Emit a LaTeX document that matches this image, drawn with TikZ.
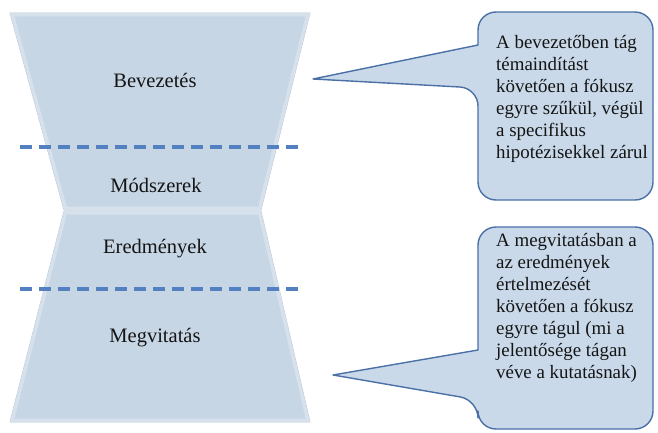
\documentclass[tikz,border=0pt]{standalone}
\usepackage{fontspec}
\setmainfont{Liberation Serif}
\definecolor{funnelfill}{HTML}{C7D6E4}
\definecolor{funnellight}{HTML}{D6E1EB}
\definecolor{funneledge}{HTML}{BCCDDD}
\definecolor{sepblue}{HTML}{5280C0}
\definecolor{bubblefill}{HTML}{C9D9E9}
\definecolor{bubbleedge}{HTML}{4A70A6}
\definecolor{inktext}{HTML}{141414}

\begin{document}
\begin{tikzpicture}[x=1pt,y=-1pt,
        funnel/.style={fill=funnelfill, draw=funneledge, line width=0.8pt, line join=round},
        bevel/.style={draw=funnellight, line width=7pt, line join=round},
        sepline/.style={draw=sepblue, line width=3.2pt, dash pattern=on 12pt off 7pt},
        stagelabel/.style={font=\fontsize{20.5}{24}\selectfont, text=inktext, inner sep=0pt},
        bubble/.style={fill=bubblefill, draw=bubbleedge, line width=1.4pt, line join=round},
        bubbletext/.style={font=\fontsize{18.9}{22}\selectfont, text=inktext, align=left, anchor=west, inner sep=0pt}]
        \useasboundingbox (0,0) rectangle (658,433);

        \draw[funnel] (10,13) -- (310,13) -- (261,210) -- (64,210) -- cycle;
        \begin{scope}
            \clip (10,13) -- (310,13) -- (261,210) -- (64,210) -- cycle;
            \draw[bevel] (10,13) -- (310,13) -- (261,210) -- (64,210) -- cycle;
        \end{scope}
        \draw[funnel] (64,211) -- (261,211) -- (310,422) -- (10,422) -- cycle;
        \begin{scope}
            \clip (64,211) -- (261,211) -- (310,422) -- (10,422) -- cycle;
            \draw[bevel] (64,211) -- (261,211) -- (310,422) -- (10,422) -- cycle;
        \end{scope}

        \draw[sepline] (20,147) -- (302,147);
        \draw[sepline] (20,289) -- (302,289);

        \node[stagelabel] (bev) at (155,80) {Bevezetés};
        \node[stagelabel] (mod) at (156,185) {Módszerek};
        \node[stagelabel] (ered) at (155,249) {Eredmények};
        \node[stagelabel] (megv) at (155,338) {Megvitatás};

        \draw[bubble] (478,45) [rounded corners=18pt] -- (478,12) -- (653,12) -- (653,200) -- (478,200) -- (478,88) [sharp corners] -- (313,79) -- cycle;
        \draw[bubble] (478,350) [rounded corners=18pt] -- (478,227) -- (653,227) -- (653,429) -- (478,429) -- (478,400) [sharp corners] -- (333,375) -- cycle;

        \node[bubbletext] (introbox) at (496,99) {A bevezetőben tág\\témaindítást\\követően a fókusz\\egyre szűkül, végül\\a specifikus\\hipotézisekkel zárul};
        \node[bubbletext] (discbox) at (496,308) {A megvitatásban a\\az eredmények\\értelmezését\\követően a fókusz\\egyre tágul (mi a\\jelentősége tágan\\véve a kutatásnak)};

    \end{tikzpicture}
\end{document}
